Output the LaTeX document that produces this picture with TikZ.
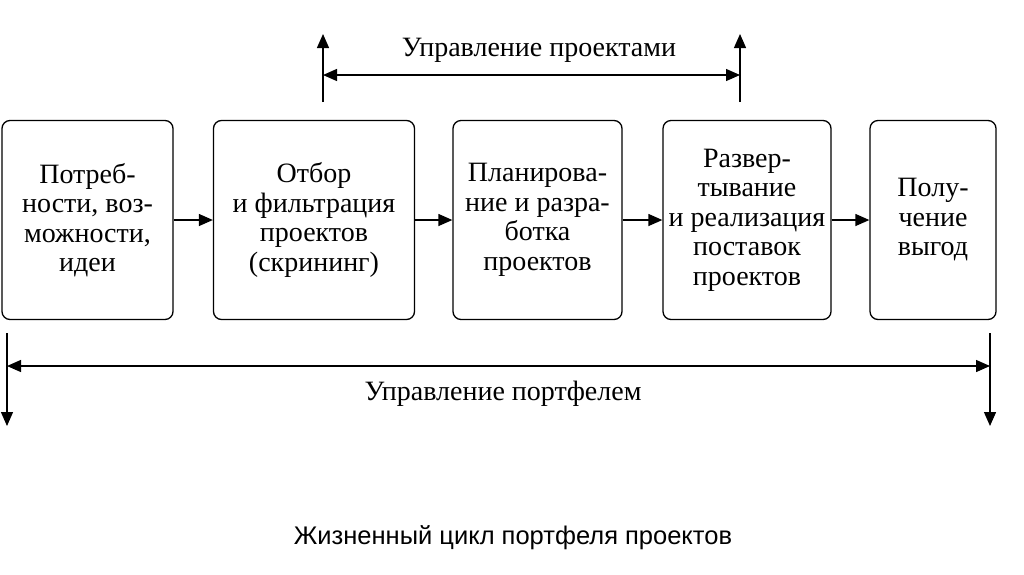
\documentclass[tikz,border=0pt]{standalone}
\usepackage{fontspec}
\setmainfont{Liberation Serif}
\newfontfamily\capfont{Liberation Sans}
\usetikzlibrary{arrows.meta}

\begin{document}
\begin{tikzpicture}[x=1pt,y=-1pt,
  stage/.style={draw,line width=1.3pt,rounded corners=8pt,minimum height=199pt,
    align=center,inner sep=0pt,font=\fontsize{28}{29.5}\selectfont},
  flow/.style={line width=1.3pt,-{Triangle[length=14pt,width=12pt]}},
  span/.style={line width=1.3pt,{Triangle[length=14pt,width=12pt]}-{Triangle[length=14pt,width=12pt]}}]
  \useasboundingbox (0,0) rectangle (1024,574);
  \node[stage,minimum width=171pt] (need) at (87.5,220) {Потреб-\\ности, воз-\\можности,\\идеи};
  \node[stage,minimum width=201pt] (screen) at (314,220) {Отбор\\и фильтрация\\проектов\\(скрининг)};
  \node[stage,minimum width=169pt] (plan) at (537.5,220) {Планирова-\\ние и разра-\\ботка\\проектов};
  \node[stage,minimum width=168pt] (deploy) at (747,220) {Развер-\\тывание\\и реализация\\поставок\\проектов};
  \node[stage,minimum width=126pt] (gain) at (933,220) {Полу-\\чение\\выгод};
  \path[flow]
    (need) edge (screen) (screen) edge (plan) (plan) edge (deploy) (deploy) edge (gain);
  % project management
  \coordinate (pmL) at (323,102); \coordinate (pmR) at (740,102);
  \coordinate (pmLt) at (323,34); \coordinate (pmRt) at (740,34);
  \coordinate (pmA) at (323,75); \coordinate (pmB) at (740,75);
  \draw[flow] (pmL) -- (pmLt);
  \draw[flow] (pmR) -- (pmRt);
  \node[font=\fontsize{28}{29}\selectfont] (pmtext) at (539,50) {Управление проектами};
  \draw[span] (pmA) -- (pmB);
  % portfolio management
  \coordinate (ptL) at (7,333); \coordinate (ptR) at (990,333);
  \coordinate (ptLb) at (7,426); \coordinate (ptRb) at (990,426);
  \coordinate (ptA) at (7,366); \coordinate (ptB) at (990,366);
  \draw[flow] (ptL) -- (ptLb);
  \draw[flow] (ptR) -- (ptRb);
  \node[font=\fontsize{28}{29}\selectfont] (pttext) at (503,394) {Управление портфелем};
  \draw[span] (ptA) -- (ptB);
  \node[font=\capfont\fontsize{25.5}{30}\selectfont] (caption) at (513,538) {Жизненный цикл портфеля проектов};
\end{tikzpicture}
\end{document}
